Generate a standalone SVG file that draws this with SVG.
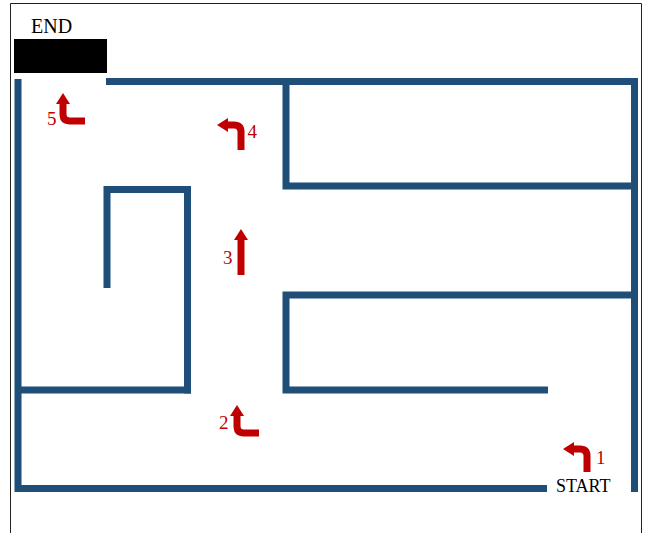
<svg xmlns="http://www.w3.org/2000/svg" width="645" height="533" viewBox="0 0 645 533">
<style>
.wall{fill:none;stroke:#1f4e79;stroke-width:7;stroke-linecap:butt;stroke-linejoin:miter}
.arrow{fill:none;stroke:#c00000;stroke-width:7;stroke-linecap:butt}
.num{font-family:"Liberation Serif","Times New Roman",serif;font-size:19px;fill:#c00000}
.lbl{font-family:"Liberation Serif","Times New Roman",serif;fill:#000}
</style>
<defs>
<marker id="head" markerUnits="userSpaceOnUse" markerWidth="12" markerHeight="15" refX="0" refY="7" orient="auto" viewBox="0 0 12 14">
<path d="M0,0 L11,7 L0,14 z" fill="#c00000"/>
</marker>
</defs>
<rect width="645" height="533" fill="#fff"/>
<path d="M10.5,533 V3.5 H641.5 V533" fill="none" stroke="#222" stroke-width="1"/>
<g id="walls">
<line class="wall" x1="106" y1="81.5" x2="638" y2="81.5"/>
<line class="wall" x1="634.5" y1="78" x2="634.5" y2="492"/>
<line class="wall" x1="18" y1="79" x2="18" y2="492"/>
<line class="wall" x1="15" y1="488.5" x2="547" y2="488.5"/>
<line class="wall" x1="15" y1="390" x2="191" y2="390"/>
<path class="wall" d="M107,288 V189.5 H187.5 V393.5"/>
<path class="wall" d="M286,81 V186 H638"/>
<path class="wall" d="M638,295 H286 V390 H548"/>
</g>
<g id="end">
<rect x="14" y="39" width="93" height="34" fill="#000"/>
<text class="lbl" x="31" y="33" font-size="20">END</text>
</g>
<g id="start">
<text class="lbl" x="556" y="491.5" font-size="18">START</text>
</g>
<g id="connectors">
<path id="arrow1" class="arrow" d="M587,472 V456 Q587,449 580,449 H574" marker-end="url(#head)"/>
<path id="arrow2" class="arrow" d="M259,433 H244 Q237,433 237,426 V416" marker-end="url(#head)"/>
<path id="arrow3" class="arrow" d="M241,275 V240" marker-end="url(#head)"/>
<path id="arrow4" class="arrow" d="M241,150 V132 Q241,125 234,125 H228" marker-end="url(#head)"/>
<path id="arrow5" class="arrow" d="M85,121 H70 Q63,121 63,114 V104" marker-end="url(#head)"/>
</g>
<g id="numbers">
<text class="num" x="596" y="463.5">1</text>
<text class="num" x="219" y="428.5">2</text>
<text class="num" x="223" y="264">3</text>
<text class="num" x="247.5" y="137.5">4</text>
<text class="num" x="47" y="125">5</text>
</g>
</svg>
